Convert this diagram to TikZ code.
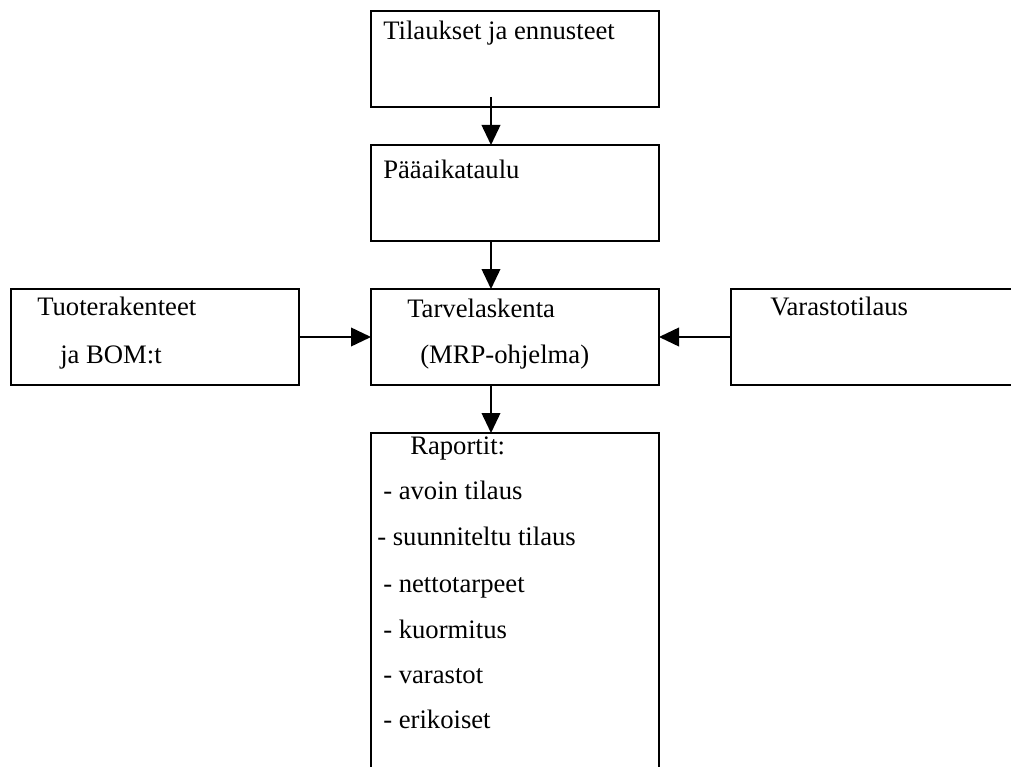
\documentclass[tikz,border=0pt]{standalone}
\usepackage{fontspec}
\setmainfont{Liberation Serif}
\usetikzlibrary{arrows.meta,calc}
\begin{document}
\begin{tikzpicture}[x=0.75pt,y=-0.75pt,
  box/.style={draw=black,line width=1.5pt,inner sep=0pt,outer sep=0pt,minimum width=216pt},
  arr/.style={draw=black,line width=1.3pt,-{Triangle[length=15pt,width=14pt]}},
  txt/.style={anchor=base west,inner sep=0pt,font=\fontsize{20pt}{24pt}\selectfont}]
\useasboundingbox (0,0) rectangle (1011,767);
\clip (0,0) rectangle (1011,767);

% boxes
\node[box,minimum height=72pt] (b1) at (515,59) {};
\node[box,minimum height=72pt] (b2) at (515,193) {};
\node[box,minimum height=72pt] (b3) at (515,337) {};
\node[box,minimum height=72pt] (lb) at (155,337) {};
\node[box,minimum height=72pt,minimum width=225pt] (rb) at (881,337) {};
\node[box,minimum height=276pt] (rep) at (515,617) {};

% labels
\node[txt] (t1) at (383,40) {Tilaukset ja ennusteet};
\node[txt] (t2) at (383,178) {Pääaikataulu};
\node[txt] (t3a) at (407,317) {Tarvelaskenta};
\node[txt] (t3b) at (420,363) {(MRP-ohjelma)};
\node[txt] (tla) at (37,315) {Tuoterakenteet};
\node[txt] (tlb) at (60,363) {ja BOM:t};
\node[txt] (tr) at (770,315) {Varastotilaus};
\node[txt] (r0) at (410,454) {Raportit:};
\node[txt] (r1) at (383,499) {- avoin tilaus};
\node[txt] (r2) at (377,545) {- suunniteltu tilaus};
\node[txt] (r3) at (383,592) {- nettotarpeet};
\node[txt] (r4) at (383,638) {- kuormitus};
\node[txt] (r5) at (383,683) {- varastot};
\node[txt] (r6) at (383,728) {- erikoiset};

% connectors
\draw[arr] ($(b1.south)+(-24,-10)$) -- ($(b2.north)+(-24,0)$);
\draw[arr] ($(b2.south)+(-24,0)$) -- ($(b3.north)+(-24,0)$);
\draw[arr] ($(b3.south)+(-24,0)$) -- ($(rep.north)+(-24,0)$);
\draw[arr] (lb.east) -- (b3.west);
\draw[arr] (rb.west) -- (b3.east);
\end{tikzpicture}
\end{document}
